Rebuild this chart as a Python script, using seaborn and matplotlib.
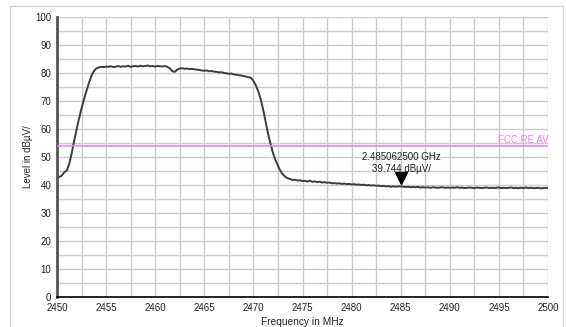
import numpy as np
import matplotlib
matplotlib.use("Agg")
import matplotlib.pyplot as plt
import matplotlib.transforms as mtrans
from matplotlib.lines import Line2D
from matplotlib.ticker import MultipleLocator
import seaborn as sns

# ---- data ----
f_start, f_stop = 2450.0, 2500.0
level = [
    42.3, 42.9, 43.4, 44.6, 45.2, 47.6, 51.4, 55.8, 59.9, 63.8, 67.4, 70.6, 73.6, 76.4, 78.9, 80.7, 81.6, 82.0, 82.2, 82.1, 82.3,
    82.2, 82.4, 82.1, 82.3, 82.5, 82.2, 82.4, 82.3, 82.6, 82.2, 82.4, 82.5, 82.3, 82.6, 82.4, 82.5, 82.7, 82.4, 82.5, 82.3,
    82.5, 82.4, 82.3, 82.5, 82.2, 81.6, 80.6, 80.4, 81.2, 81.6, 81.7, 81.5, 81.6, 81.4, 81.5, 81.3, 81.2, 81.1, 80.9, 80.8,
    80.9, 80.6, 80.7, 80.5, 80.4, 80.2, 80.3, 80.0, 79.9, 79.7, 79.8, 79.5, 79.4, 79.2, 79.1, 78.9, 78.7, 78.5, 78.3, 77.2,
    75.6, 73.4, 70.6, 66.8, 62.4, 58.2, 54.6, 51.4, 48.9, 46.9, 45.0, 43.8, 42.9, 42.4, 42.1, 41.8, 41.9, 41.6, 41.7, 41.4,
    41.5, 41.2, 41.6, 41.1, 41.3, 41.0, 41.2, 40.9, 41.0, 40.8, 40.9, 40.6, 40.7, 40.5, 40.6, 40.4, 40.5, 40.3, 40.4, 40.2,
    40.3, 40.1, 40.2, 40.0, 40.1, 39.9, 40.0, 39.8, 39.9, 39.7, 39.8, 39.6, 39.7, 39.5, 39.6, 39.4, 39.5, 39.4, 39.5, 39.5,
    39.4, 39.3, 39.4, 39.2, 39.3, 39.2, 39.3, 39.1, 39.2, 39.1, 39.2, 39.0, 39.2, 39.1, 39.0, 39.1, 39.2, 39.0, 39.1, 39.0,
    39.1, 39.0, 39.2, 39.0, 39.1, 38.9, 39.0, 39.1, 39.0, 38.9, 39.1, 39.0, 38.9, 39.0, 39.1, 38.9, 39.0, 38.9, 39.0, 39.1,
    38.9, 39.0, 38.9, 39.0, 39.1, 38.9, 39.0, 38.9, 39.0, 38.9, 39.1, 38.9, 39.0, 38.9, 38.9, 39.0, 38.8, 38.9, 39.0, 38.9,
]
freq = np.linspace(f_start, f_stop, len(level))

limit_value = 54
limit_label = "FCC RE AV"
marker_freq = 2485.0625
marker_level = 39.744
marker_lines = ["2.485062500 GHz", "39.744 dBµV/"]
x_label = "Frequency in MHz"
y_label = "Level in dBµV/"

# ---- style ----
sns.set_style("white")
plt.rcParams['font.family'] = ['Liberation Sans', 'DejaVu Sans']
txt = '#222222'
fs = 7

fig = plt.figure(figsize=(5.66, 3.27), dpi=100)
ax = fig.add_axes([57/566, 1-297/327, (548-57)/566, (297-17)/327])

sns.lineplot(x=freq, y=level, ax=ax, color='#3c3c3c', linewidth=1.4)
ax.axhline(limit_value, color='#ee7aee', linewidth=1.1, zorder=3)
ax.text(f_stop + 0.1, limit_value + 0.3, limit_label, ha='right', va='bottom',
        fontsize=fs, color='#f07ef0')

# marker triangle with tip at value
off = mtrans.offset_copy(ax.transData, fig=fig, x=0, y=5.5, units='points')
ax.plot([marker_freq], [marker_level], marker='v', markersize=8, color='black',
        transform=off, zorder=5)
ax.annotate(marker_lines[1], (marker_freq, marker_level), xytext=(0, 12),
            textcoords='offset points', ha='center', va='center', fontsize=fs, color=txt)
ax.annotate(marker_lines[0], (marker_freq, marker_level), xytext=(0, 20.5),
            textcoords='offset points', ha='center', va='center', fontsize=fs, color=txt)

ax.set_xlim(f_start, f_stop)
ax.set_ylim(0, 100)
ax.xaxis.set_major_locator(MultipleLocator(5))
ax.xaxis.set_minor_locator(MultipleLocator(2.5))
ax.yaxis.set_major_locator(MultipleLocator(10))
ax.yaxis.set_minor_locator(MultipleLocator(5))
ax.grid(True, which='both', color='#cbcbcb', linewidth=1.0, zorder=0)
ax.set_axisbelow(True)

for s in ['top', 'right']:
    ax.spines[s].set_visible(False)
ax.spines['left'].set_color('#555555')
ax.spines['left'].set_linewidth(2)
ax.spines['bottom'].set_color('black')
ax.spines['bottom'].set_linewidth(1.2)

ax.tick_params(axis='both', which='both', direction='inout', length=4, width=0.9,
               color='#222222', labelsize=fs, labelcolor=txt, pad=2)

ax.set_xlabel(x_label, fontsize=fs + 0.3, color=txt)
ax.set_ylabel(y_label, fontsize=fs, color=txt)
ax.xaxis.set_label_coords(0.5, (297-317)/280)
ax.yaxis.set_label_coords((33-57)/491, 0.5)

# outer frame
W, H = 566, 327
fc = '#d4d4d4'
fig.add_artist(Line2D([10/W, 563/W], [1-6/H, 1-6/H], color=fc, lw=1, transform=fig.transFigure))
fig.add_artist(Line2D([10/W, 10/W], [1-6/H, 0], color=fc, lw=1, transform=fig.transFigure))
fig.add_artist(Line2D([563/W, 563/W], [1-6/H, 0], color=fc, lw=1, transform=fig.transFigure))

fig.savefig("out.png", dpi=100)
